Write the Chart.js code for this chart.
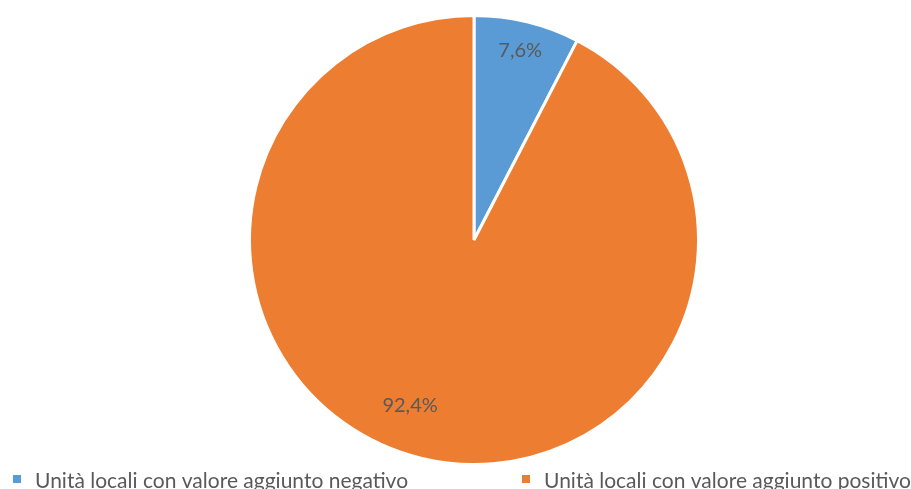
<!DOCTYPE html>
<html>
<head>
<meta charset="utf-8">
<script src="https://cdn.jsdelivr.net/npm/chart.js@4.4.0/dist/chart.umd.min.js"></script>
<style>
  html, body { margin: 0; padding: 0; background: #fff; }
  #wrap { width: 911px; height: 489px; }
</style>
</head>
<body>
<div id="wrap"><canvas id="pie"></canvas></div>
<script>
// Chart data
var categories = ['Unità locali con valore aggiunto negativo', 'Unità locali con valore aggiunto positivo'];
var shares = [7.6, 92.4];
var sliceColors = ['#5B9BD5', '#ED7D31'];

var textColor = '#595959';
var fontFamily = 'Lato, "Open Sans", sans-serif';

// labels inside slices (drawn at slice angle)
var sliceLabels = {
    id: 'sliceLabels',
    afterDatasetsDraw: function (chart) {
        var ctx = chart.ctx;
        var meta = chart.getDatasetMeta(0);
        var place = [{ f: 0.87, da: 0 }, { f: 0.79, da: 0.13 }];
        ctx.save();
        ctx.fillStyle = textColor;
        ctx.font = '20px ' + fontFamily;
        ctx.textAlign = 'center';
        ctx.textBaseline = 'middle';
        meta.data.forEach(function (arc, i) {
            var p = arc.getProps(['x', 'y', 'startAngle', 'endAngle', 'outerRadius'], true);
            var a = (p.startAngle + p.endAngle) / 2 + place[i].da;
            var r = p.outerRadius * place[i].f;
            var txt = shares[i].toFixed(1).replace('.', ',') + '%';
            ctx.fillText(txt, p.x + Math.cos(a) * r, p.y + Math.sin(a) * r);
        });
        ctx.restore();
    }
};

// legend at the bottom, two items across the whole width
var bottomLegend = {
    id: 'bottomLegend',
    afterDraw: function (chart) {
        var ctx = chart.ctx;
        var xs = [13, 522];
        ctx.save();
        ctx.font = '21px ' + fontFamily;
        ctx.textBaseline = 'alphabetic';
        ctx.textAlign = 'left';
        categories.forEach(function (c, i) {
            ctx.fillStyle = sliceColors[i];
            ctx.fillRect(xs[i], 475, 8, 8);
            ctx.fillStyle = textColor;
            ctx.fillText(c, xs[i] + 22, 488);
        });
        ctx.restore();
    }
};

var ctxPie = document.getElementById('pie');

var chartOptions = {
    responsive: true,
    maintainAspectRatio: false,
    animation: false,
    layout: {
        padding: { top: 14, bottom: 23, left: 248, right: 211 }
    },
    plugins: {
        legend: { display: false },
        tooltip: { enabled: false }
    }
};

var pieChart = new Chart(ctxPie, {
    type: 'pie',
    data: {
        labels: categories,
        datasets: [{
            data: shares,
            backgroundColor: sliceColors,
            borderColor: '#ffffff',
            borderWidth: 3
        }]
    },
    options: chartOptions,
    plugins: [sliceLabels, bottomLegend]
});
</script>
</body>
</html>
